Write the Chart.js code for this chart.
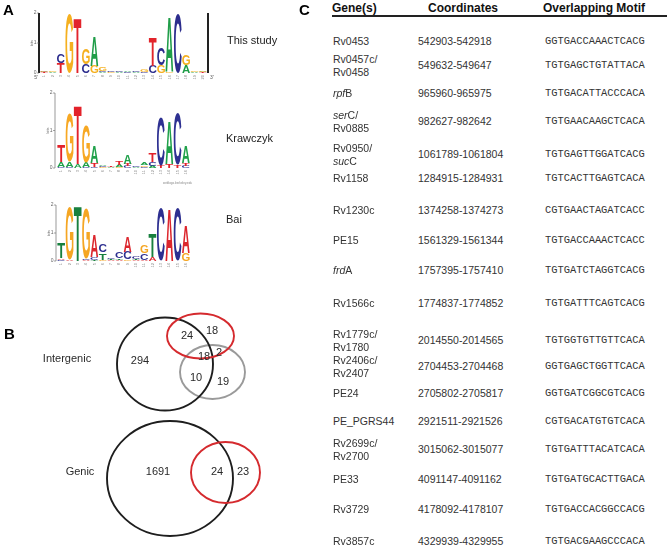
<!DOCTYPE html>
<html><head><meta charset="utf-8">
<script src="https://cdn.jsdelivr.net/npm/chart.js@4.4.0/dist/chart.umd.min.js"></script>
<style>
html,body{margin:0;padding:0;background:#fff;}
#fig{position:relative;width:667px;height:547px;overflow:hidden;font-family:"Liberation Sans",Arial,sans-serif;color:#222;background:#fff;}
.box{position:absolute;}
.box canvas{display:block;}
.panel{position:absolute;font-weight:bold;font-size:15px;color:#000;line-height:15px;}
.lbl{position:absolute;font-size:11px;color:#222;line-height:11px;white-space:nowrap;}
.hd{position:absolute;font-weight:bold;font-size:12px;color:#111;line-height:12px;white-space:nowrap;}
.cell{position:absolute;font-size:10.5px;color:#333;line-height:12.5px;white-space:nowrap;transform:translateY(-50%);}
.motif{position:absolute;font-family:"Liberation Mono",monospace;font-size:10.4px;color:#333;line-height:12px;white-space:nowrap;transform:translateY(-50%);}
</style></head><body><div id="fig">
<div class="box" style="left:0;top:0;width:300px;height:90px"><canvas id="logo1" width="300" height="90"></canvas></div>
<div class="box" style="left:0;top:85px;width:300px;height:105px"><canvas id="logo2" width="300" height="105"></canvas></div>
<div class="box" style="left:0;top:195px;width:300px;height:80px"><canvas id="logo3" width="300" height="80"></canvas></div>
<div class="box" style="left:0;top:300px;width:300px;height:247px"><canvas id="venn" width="300" height="247"></canvas></div>
<div class="panel" style="left:3px;top:2px">A</div>
<div class="panel" style="left:4px;top:326px">B</div>
<div class="panel" style="left:299px;top:2px">C</div>
<div class="lbl" style="left:227px;top:35px">This study</div>
<div class="lbl" style="left:226px;top:133px">Krawczyk</div>
<div class="lbl" style="left:226px;top:214px">Bai</div>
<div id="table"></div>
</div>
<script>
// ---------- DATA ----------
// Sequence logos: letters per position (bottom -> top) and their heights in bits
const studyLetters = ["TCG","AG","TC","G","T","CG","GA","ACG","GC","AC","CA","AC","CG","CT","GC","GA","C","AG","AG","TAG"];
const studyHeights = [[0.02,0.02,0.04],[0.02,0.03],[0.33,0.3],[1.98],[1.83],[0.3,0.53],[0.25,0.98],[0.03,0.05,0.12],[0.04,0.03],[0.02,0.03],[0.02,0.03],[0.02,0.03],[0.04,0.08],[0.24,0.96],[0.26,0.56],[0.05,1.82],[1.98],[0.25,0.36],[0.02,0.04],[0.02,0.02,0.06]];

const krawLetters = ["CAT","CAG","AT","CAG","CTA","GCA","AT","GAT","CTA","AC","CGA","ACT","TC","TA","TC","CTA"];
const krawHeights = [[0.04,0.12,0.46],[0.03,0.13,1.3],[0.1,1.55],[0.03,0.12,0.98],[0.04,0.1,0.45],[0.03,0.03,0.04],[0.02,0.03],[0.04,0.05,0.1],[0.05,0.07,0.25],[0.02,0.03],[0.03,0.04,0.05],[0.05,0.1,0.25],[0.07,1.3],[0.1,1.13],[0.08,1.38],[0.05,0.08,0.45]];

const baiLetters = ["CAT","AG","T","ACG","TCA","GTC","ATC","ATC","GCA","ATC","ACG","AT","C","A","C","GA"];
const baiHeights = [[0.04,0.06,0.55],[0.04,1.9],[1.95],[0.04,0.03,1.8],[0.05,0.1,0.78],[0.05,0.25,0.3],[0.03,0.04,0.05],[0.05,0.05,0.25],[0.05,0.28,0.55],[0.04,0.04,0.07],[0.05,0.22,0.27],[0.15,0.85],[1.87],[1.87],[1.87],[0.3,0.97]];

const bitTicks = [0, 1, 2];

// Venn counts
const vennRegionNames = ["Intergenic", "Genic"];
const intergenicCounts = [294, 24, 18, 18, 2, 10, 19];
const genicCounts = [1691, 24, 23];

// Table
const geneNames = ["Rv0453","Rv0457c/\nRv0458","<i>rpf</i>B","<i>ser</i>C/\nRv0885","Rv0950/\n<i>suc</i>C","Rv1158","Rv1230c","PE15","<i>frd</i>A","Rv1566c","Rv1779c/\nRv1780","Rv2406c/\nRv2407","PE24","PE_PGRS44","Rv2699c/\nRv2700","PE33","Rv3729","Rv3857c"];
const coordRanges = ["542903-542918","549632-549647","965960-965975","982627-982642","1061789-1061804","1284915-1284931","1374258-1374273","1561329-1561344","1757395-1757410","1774837-1774852","2014550-2014565","2704453-2704468","2705802-2705817","2921511-2921526","3015062-3015077","4091147-4091162","4178092-4178107","4329939-4329955"];
const motifs = ["GGTGACCAAACTCACG","TGTGAGCTGTATTACA","TGTGACATTACCCACA","TGTGAACAAGCTCACA","TGTGAGTTGGATCACG","TGTCACTTGAGTCACA","CGTGAACTAGATCACC","TGTGACCAAACTCACC","TGTGATCTAGGTCACG","TGTGATTTCAGTCACG","TGTGGTGTTGTTCACA","GGTGAGCTGGTTCACA","GGTGATCGGCGTCACG","CGTGACATGTGTCACA","TGTGATTTACATCACA","TGTGATGCACTTGACA","TGTGACCACGGCCACG","TGTGACGAAGCCCACA"];
const tableHeaders = ["Gene(s)", "Coordinates", "Overlapping Motif"];

// ---------- STYLE / LAYOUT ----------
const studyColors = {A:"#1f9d48",C:"#2c2d8d",G:"#f5b01f",T:"#e2242b"};
const krawColors  = {A:"#1fa14a",C:"#2e3192",G:"#f7a823",T:"#e3222a"};
const baiColors   = {A:"#dc262d",C:"#2d2f90",G:"#f5a623",T:"#18803e"};

Chart.defaults.font.family = '"Liberation Sans", Arial, sans-serif';

function drawLetter(ctx, ch, x, yTop, w, h, color) {
  if (h < 0.25 || w <= 0) return;
  ctx.save();
  ctx.font = 'bold 100px "Liberation Sans", Arial, sans-serif';
  const m = ctx.measureText(ch);
  const gw = m.actualBoundingBoxLeft + m.actualBoundingBoxRight;
  const gh = m.actualBoundingBoxAscent + m.actualBoundingBoxDescent;
  ctx.translate(x, yTop);
  ctx.scale(w / gw, h / gh);
  ctx.fillStyle = color;
  ctx.textBaseline = 'alphabetic';
  ctx.textAlign = 'left';
  ctx.fillText(ch, m.actualBoundingBoxLeft, m.actualBoundingBoxAscent);
  ctx.restore();
}

function makeLogo(id, letters, heights, colors, pad, axis) {
  const layers = Math.max(...heights.map(h => h.length));
  const datasets = [];
  for (let k = 0; k < layers; k++) {
    datasets.push({
      data: heights.map(h => h[k] || 0),
      letters: letters.map(s => s[k] || ''),
      backgroundColor: 'rgba(0,0,0,0)',
      borderWidth: 0,
      categoryPercentage: 1,
      barPercentage: 1
    });
  }
  const labels = letters.map((_, i) => String(i + 1));
  const letterPlugin = {
    id: 'letters',
    afterDatasetsDraw(chart) {
      const ctx = chart.ctx;
      chart.data.datasets.forEach((ds, di) => {
        const meta = chart.getDatasetMeta(di);
        meta.data.forEach((el, i) => {
          const ch = ds.letters[i];
          if (!ch) return;
          const p = el.getProps(['x', 'y', 'base', 'width'], true);
          const top = Math.min(p.y, p.base), h = Math.abs(p.base - p.y);
          drawLetter(ctx, ch, p.x - p.width / 2 + 0.3, top, p.width - 0.6, h, colors[ch]);
        });
      });
    },
    afterDraw(chart) {
      const ctx = chart.ctx, a = chart.chartArea, ys = chart.scales.y, xs = chart.scales.x;
      ctx.save();
      ctx.strokeStyle = axis.color; ctx.lineWidth = axis.width;
      const ax = a.left - axis.gap;
      ctx.beginPath(); ctx.moveTo(ax, ys.getPixelForValue(2)); ctx.lineTo(ax, ys.getPixelForValue(0)); ctx.stroke();
      if (axis.right) {
        ctx.beginPath(); ctx.moveTo(a.right + 1, ys.getPixelForValue(2)); ctx.lineTo(a.right + 1, ys.getPixelForValue(0)); ctx.stroke();
      }
      ctx.fillStyle = '#666'; ctx.strokeStyle = '#666'; ctx.lineWidth = 0.6;
      ctx.font = '5px "Liberation Sans"'; ctx.textAlign = 'right'; ctx.textBaseline = 'middle';
      bitTicks.forEach(t => {
        const y = ys.getPixelForValue(t);
        ctx.beginPath(); ctx.moveTo(ax - 2, y); ctx.lineTo(ax, y); ctx.stroke();
        ctx.fillText(String(t), ax - 2.5, y);
      });
      ctx.save();
      ctx.translate(ax - 7, ys.getPixelForValue(1)); ctx.rotate(-Math.PI / 2);
      ctx.textAlign = 'center'; ctx.font = '4px "Liberation Sans"'; ctx.fillText('bits', 0, 0);
      ctx.restore();
      ctx.fillStyle = '#888'; ctx.font = '4px "Liberation Sans"';
      chart.data.labels.forEach((l, i) => {
        const x = xs.getPixelForValue(i);
        ctx.save(); ctx.translate(x, a.bottom + 2); ctx.rotate(-Math.PI / 2);
        ctx.textAlign = 'right'; ctx.textBaseline = 'middle';
        ctx.fillText(l, 0, 0); ctx.restore();
      });
      if (axis.primes) {
        ctx.fillStyle = '#555'; ctx.font = '5px "Liberation Sans"'; ctx.textBaseline = 'top';
        ctx.textAlign = 'right'; ctx.fillText("5'", ax - 1, a.bottom + 2);
        ctx.textAlign = 'left'; ctx.fillText("3'", a.right + 3, a.bottom + 2);
      }
      if (axis.credit) {
        ctx.fillStyle = '#888'; ctx.font = '3px "Liberation Sans"'; ctx.textAlign = 'right'; ctx.textBaseline = 'top';
        ctx.fillText('weblogo.berkeley.edu', a.right + 2, a.bottom + 14);
      }
      ctx.restore();
    }
  };
  return new Chart(document.getElementById(id), {
    type: 'bar',
    data: { labels, datasets },
    options: {
      responsive: false, animation: false, events: [],
      layout: { padding: pad },
      plugins: { legend: { display: false }, tooltip: { enabled: false }, title: { display: false } },
      scales: {
        x: { display: false, stacked: true, offset: true },
        y: { display: false, stacked: true, min: 0, max: 2 }
      }
    },
    plugins: [letterPlugin]
  });
}

makeLogo('logo1', studyLetters, studyHeights, studyColors,
  { left: 40, right: 93, top: 13, bottom: 17 },
  { color: '#222', width: 2, gap: 1, right: true, primes: true });
makeLogo('logo2', krawLetters, krawHeights, krawColors,
  { left: 57, right: 110, top: 8, bottom: 22 },
  { color: '#999', width: 1, gap: 2, right: false, primes: false, credit: true });
makeLogo('logo3', baiLetters, baiHeights, baiColors,
  { left: 57, right: 110, top: 10, bottom: 14 },
  { color: '#999', width: 1, gap: 1, right: false, primes: false });

// ---------- VENN ----------
const vennEllipses = [
  { cx: 212.5, cy: 372, rx: 32.5, ry: 27, color: '#9a9a9a' },
  { cx: 165, cy: 364, rx: 48, ry: 46.5, color: '#1e1e1e' },
  { cx: 200.5, cy: 336, rx: 33.5, ry: 22.5, color: '#d52a2e' },
  { cx: 170, cy: 478.5, rx: 63, ry: 57.5, color: '#1e1e1e' },
  { cx: 225.5, cy: 472.5, rx: 34.5, ry: 30.5, color: '#d52a2e' }
];
const intergenicPos = [[140,361],[187,336],[212,331],[204,357],[219,353],[196,378],[223,382]];
const genicPos = [[158,472],[217,472],[243,472]];
const regionPos = [[67,359],[80,472]];

const vennDatasets = [];
vennEllipses.forEach(e => vennDatasets.push({ kind: 'ellipse', e, data: [{ x: e.cx, y: e.cy }], pointRadius: 0 }));
intergenicCounts.forEach((c, i) => vennDatasets.push({ kind: 'count', text: String(c), data: [{ x: intergenicPos[i][0], y: intergenicPos[i][1] }], pointRadius: 0 }));
genicCounts.forEach((c, i) => vennDatasets.push({ kind: 'count', text: String(c), data: [{ x: genicPos[i][0], y: genicPos[i][1] }], pointRadius: 0 }));
vennRegionNames.forEach((r, i) => vennDatasets.push({ kind: 'count', text: r, data: [{ x: regionPos[i][0], y: regionPos[i][1] }], pointRadius: 0 }));

const vennPlugin = {
  id: 'venn',
  afterDatasetsDraw(chart) {
    const ctx = chart.ctx, xs = chart.scales.x, ys = chart.scales.y;
    ctx.save();
    chart.data.datasets.forEach((ds, di) => {
      if (ds.kind !== 'ellipse') return;
      const p = chart.getDatasetMeta(di).data[0].getProps(['x', 'y'], true);
      const rx = Math.abs(xs.getPixelForValue(ds.e.cx + ds.e.rx) - p.x);
      const ry = Math.abs(ys.getPixelForValue(ds.e.cy + ds.e.ry) - p.y);
      ctx.beginPath(); ctx.ellipse(p.x, p.y, rx, ry, 0, 0, Math.PI * 2);
      ctx.strokeStyle = ds.e.color; ctx.lineWidth = 1.9; ctx.stroke();
    });
    chart.data.datasets.forEach((ds, di) => {
      if (ds.kind !== 'count') return;
      const p = chart.getDatasetMeta(di).data[0].getProps(['x', 'y'], true);
      ctx.font = '11px "Liberation Sans", Arial, sans-serif';
      ctx.fillStyle = '#2a2a2a'; ctx.textAlign = 'center'; ctx.textBaseline = 'middle';
      ctx.fillText(ds.text, p.x, p.y);
    });
    ctx.restore();
  }
};
new Chart(document.getElementById('venn'), {
  type: 'scatter',
  data: { datasets: vennDatasets },
  options: {
    responsive: false, animation: false, events: [],
    layout: { padding: 0 },
    plugins: { legend: { display: false }, tooltip: { enabled: false } },
    scales: {
      x: { display: false, min: 0, max: 300 },
      y: { display: false, min: 300, max: 547, reverse: true }
    }
  },
  plugins: [vennPlugin]
});

// ---------- TABLE ----------
const rowY = [41,65,93,121,154,178,210,240,270,303,340,366,393,421,449,479,509,541];
const tbl = document.getElementById('table');
let html = '';
const hx = [332, 428, 543];
tableHeaders.forEach((h, i) => { html += `<div class="hd" style="left:${hx[i]}px;top:2px">${h}</div>`; });
html += `<div style="position:absolute;left:332px;top:15px;width:335px;height:1.5px;background:#222"></div>`;
geneNames.forEach((g, i) => {
  html += `<div class="cell" style="left:333px;top:${rowY[i]}px">${g.replace('\n', '<br>')}</div>`;
  html += `<div class="cell" style="left:418px;top:${rowY[i]}px">${coordRanges[i]}</div>`;
  html += `<div class="motif" style="left:545px;top:${rowY[i]}px">${motifs[i]}</div>`;
});
tbl.innerHTML = html;
</script>
</body></html>
